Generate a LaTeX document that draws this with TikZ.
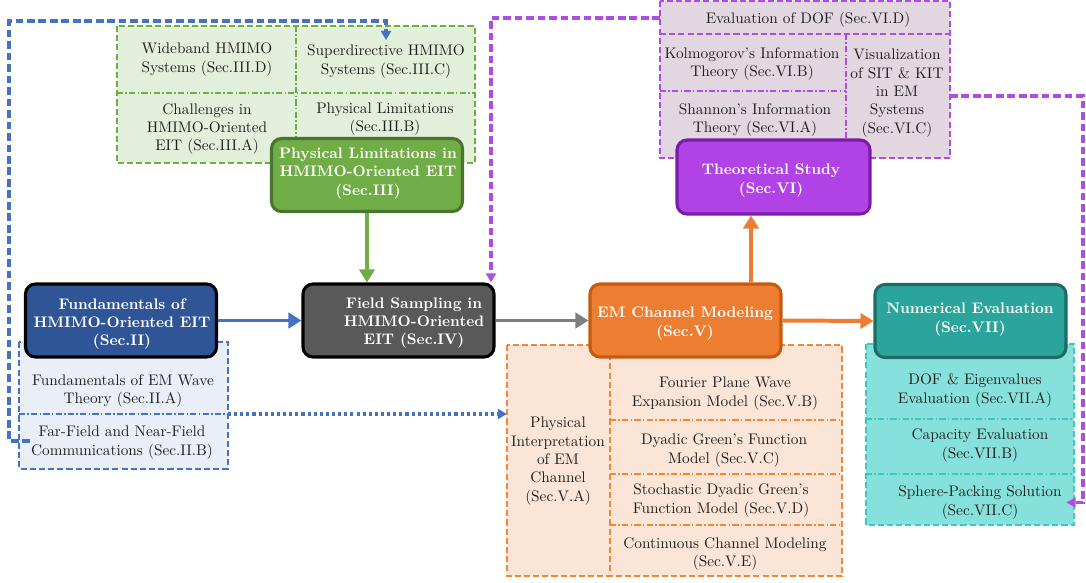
\documentclass[tikz,border=0pt]{standalone}
\usetikzlibrary{arrows.meta,calc}

% one drawing unit = one pixel of the layout grid
\def\pxu{0.6536pt}

\definecolor{gmain}{HTML}{70AD47}
\definecolor{gdark}{HTML}{4A7530}
\definecolor{glight}{HTML}{E2EFDA}
\definecolor{bmain}{HTML}{2F5597}
\definecolor{blight}{HTML}{E9EEF7}
\definecolor{bline}{HTML}{4472C4}
\definecolor{kmain}{HTML}{595959}
\definecolor{karrow}{HTML}{7F7F7F}
\definecolor{omain}{HTML}{ED7D31}
\definecolor{odark}{HTML}{C55A11}
\definecolor{olight}{HTML}{FBE5D6}
\definecolor{oline}{HTML}{F0883A}
\definecolor{tmain}{HTML}{2BA59C}
\definecolor{tdark}{HTML}{1E6B66}
\definecolor{tlight}{HTML}{86E0DB}
\definecolor{tline}{HTML}{3DC7C0}
\definecolor{pmain}{HTML}{B143E6}
\definecolor{pdark}{HTML}{7A1CA6}
\definecolor{plight}{HTML}{E2D7E1}
\definecolor{pline}{HTML}{B14CE3}

\tikzset{
  mainbox/.style={rounded corners=6.5pt, line width=2pt,
    minimum width=191*\pxu, minimum height=73*\pxu, inner sep=0pt},
  maintext/.style={text=white, font=\bfseries, align=center, inner sep=1pt, yshift=-1.3pt},
  celltext/.style={align=center, text=black!88, inner sep=3pt, yshift=-1.3pt},
  grpborder/.style={line width=0.9pt, dash pattern=on 4pt off 2pt},
  sepdashdot/.style={line width=0.9pt, dash pattern=on 4pt off 1.5pt on 1pt off 1.5pt},
  sepdashed/.style={line width=0.9pt, dash pattern=on 4pt off 2pt},
  flow/.style={line width=2.6pt, -{Triangle[length=8.5pt,width=10pt]}},
  link/.style={line width=2pt, dash pattern=on 5pt off 2.5pt,
    -{Triangle[length=6pt,width=6.5pt]}},
  dotlink/.style={line width=2pt, dotted, -{Triangle[length=6pt,width=6.5pt]}},
}

\begin{document}
\begin{tikzpicture}[x=\pxu, y=-\pxu]
\path[use as bounding box] (0,0) rectangle (1086,582);

% ---------- sub-topic panels ----------
% Sec.III panel
\filldraw[fill=glight, draw=gmain, grpborder] (117,26) rectangle (475,163);
\draw[gmain, sepdashdot] (296,26) -- (296,163);
\draw[gmain, sepdashdot] (117,93) -- (475,93);
\node[celltext] (s3d) at (207,57.5) {Wideband HMIMO\\Systems (Sec.III.D)};
\node[celltext] (s3c) at (386,59.5) {Superdirective HMIMO\\Systems (Sec.III.C)};
\node[celltext] (s3a) at (207,127) {Challenges in\\HMIMO-Oriented\\EIT (Sec.III.A)};
\node[celltext] (s3b) at (385,117) {Physical Limitations\\(Sec.III.B)};

% Sec.II panel
\filldraw[fill=blight, draw=bline, grpborder] (19,342) rectangle (228,469);
\draw[bline, sepdashdot] (19,414) -- (228,414);
\node[celltext] (s2a) at (123,389) {Fundamentals of EM Wave\\Theory (Sec.II.A)};
\node[celltext] (s2b) at (122,440.5) {Far-Field and Near-Field\\Communications (Sec.II.B)};
\coordinate (gBe) at (228,414);
\coordinate (b2from) at (30,441);
\coordinate (bturn) at (9,21);

% Sec.V panel
\filldraw[fill=olight, draw=oline, grpborder] (507,345) rectangle (842,576);
\draw[oline, sepdashed] (610,345) -- (610,576);
\draw[oline, sepdashdot] (610,420) -- (842,420);
\draw[oline, sepdashdot] (610,474) -- (842,474);
\draw[oline, sepdashdot] (610,525) -- (842,525);
\node[celltext] (s5a) at (558,459) {Physical\\Interpretation\\of EM\\Channel\\(Sec.V.A)};
\node[celltext] (s5b) at (725,391.5) {Fourier Plane Wave\\Expansion Model (Sec.V.B)};
\node[celltext] (s5c) at (724,448.5) {Dyadic Green's Function\\Model (Sec.V.C)};
\node[celltext] (s5d) at (721,498.5) {Stochastic Dyadic Green's\\Function Model (Sec.V.D)};
\node[celltext] (s5e) at (725,552) {Continuous Channel Modeling\\(Sec.V.E)};
\coordinate (gOw) at (507,414);

% Sec.VII panel
\filldraw[fill=tlight, draw=tline, grpborder] (866,344) rectangle (1074,525);
\draw[tline, sepdashdot] (866,419) -- (1074,419);
\draw[tline, sepdashdot] (866,474) -- (1074,474);
\node[celltext] (s7a) at (975,388.5) {DOF \& Eigenvalues\\Evaluation (Sec.VII.A)};
\node[celltext] (s7b) at (980,443.5) {Capacity Evaluation\\(Sec.VII.B)};
\node[celltext] (s7c) at (980,500.5) {Sphere-Packing Solution\\(Sec.VII.C)};

% Sec.VI panel
\filldraw[fill=plight, draw=pline, grpborder] (660,1) rectangle (950,158);
\draw[pline, sepdashed] (660,34) -- (950,34);
\draw[pline, sepdashdot] (846,34) -- (846,158);
\draw[pline, sepdashdot] (660,91) -- (846,91);
\node[celltext] (s6d) at (808,18) {Evaluation of DOF (Sec.VI.D)};
\node[celltext] (s6b) at (752,62) {Kolmogorov's Information\\Theory (Sec.VI.B)};
\node[celltext] (s6a) at (755,118) {Shannon's Information\\Theory (Sec.VI.A)};
\node[celltext] (s6c) at (897,91) {Visualization\\of SIT \& KIT\\in EM\\Systems\\(Sec.VI.C)};
\coordinate (gPw) at (660,18);
\coordinate (gPe) at (950,96);

% ---------- main section boxes ----------
\node[mainbox, fill=bmain, draw=black] (s2) at (121,320.5) {};
\node[maintext] (s2t) at (122,322) {Fundamentals of\\HMIMO-Oriented EIT\\(Sec.II)};

\node[mainbox, fill=gmain, draw=gdark] (s3) at (367,175) {};
\node[maintext] (s3t) at (368,171.5) {Physical Limitations in\\HMIMO-Oriented EIT\\(Sec.III)};

\node[mainbox, fill=kmain, draw=black] (s4) at (398.5,320.5) {};
\node[maintext] (s4t) at (414,321) {Field Sampling in\\HMIMO-Oriented\\EIT (Sec.IV)};

\node[mainbox, fill=omain, draw=odark] (s5) at (685.5,320.5) {};
\node[maintext] (s5t) at (685,321.5) {EM Channel Modeling\\(Sec.V)};

\node[mainbox, fill=pmain, draw=pdark, minimum width=193*\pxu, minimum height=74*\pxu] (s6) at (773.5,177) {};
\node[maintext] (s6t) at (771,178.5) {Theoretical Study\\(Sec.VI)};

\node[mainbox, fill=tmain, draw=tdark] (s7) at (970.5,321) {};
\node[maintext] (s7t) at (970,317.5) {Numerical Evaluation\\(Sec.VII)};

% ---------- main flow ----------
\coordinate (s5up) at ($(s5.north)+(65.5,0)$);
\draw[flow, gmain] (s3.south) -- (s3.south |- s4.north);
\draw[flow, bline] (s2.east) -- (s4.west);
\draw[flow, karrow] (s4.east) -- (s5.west);
\draw[flow, omain] (s5.east) -- (s7.west);
\draw[flow, omain] (s5up) -- (s5up |- s6.south);

% ---------- cross links ----------
\coordinate (s4in) at ($(s4.north)+(92.5,0)$);
\draw[dotlink, bline] (gBe) -- (gOw);
\draw[link, bline] (b2from) -| (bturn) -| (s3c.north);
\draw[link, pline] (gPw) -| (s4in);
\draw[link, pline] (gPe) -- ++(133,0) |- (s7c.east);
\end{tikzpicture}
\end{document}
